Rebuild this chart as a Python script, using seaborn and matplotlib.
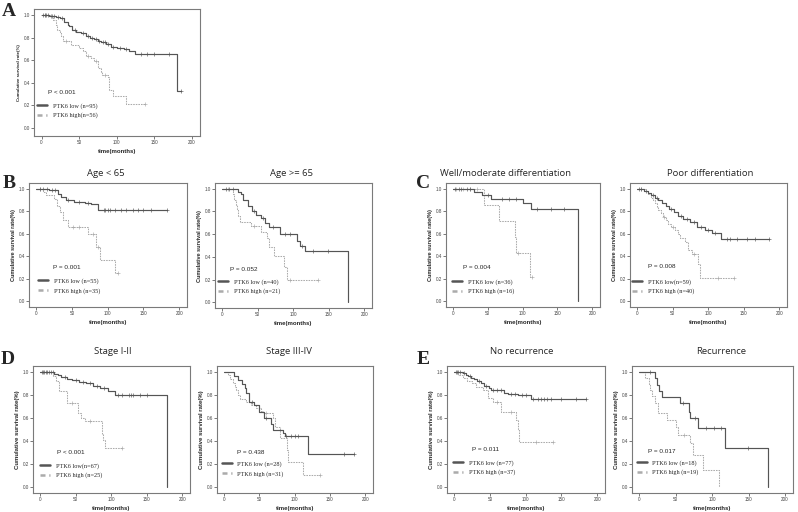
import matplotlib

matplotlib.use("Agg")
import matplotlib.pyplot as plt
from matplotlib.lines import Line2D
import numpy as np
import seaborn as sns

sns.set_style("ticks")
plt.rcParams["font.family"] = ["Liberation Sans", "DejaVu Sans"]

W, H = 798, 512
LOW_COLOR = "#555555"
HIGH_COLOR = "#ababab"

# ---- data: Kaplan-Meier steps (event time, survival after), censor times ----
# A: all patients
a_low_t = [10, 19, 24, 30, 35, 37, 41, 46, 52, 59, 64, 70, 75, 79, 86, 92, 101, 110, 117, 124, 180]
a_low_s = [0.99, 0.98, 0.97, 0.94, 0.91, 0.90, 0.87, 0.85, 0.84, 0.81, 0.80, 0.79, 0.77, 0.76, 0.74, 0.72, 0.71, 0.70, 0.68, 0.655, 0.33]
a_low_c = [2, 4, 6, 8, 12, 14, 16, 22, 27, 44, 55, 62, 67, 72, 77, 82, 84, 88, 95, 105, 113, 132, 141, 150, 170, 186]
a_high_t = [12, 15, 19, 21, 24, 26, 28, 39, 50, 55, 59, 66, 70, 75, 79, 81, 88, 90, 95, 112]
a_high_s = [0.985, 0.96, 0.91, 0.87, 0.84, 0.81, 0.77, 0.735, 0.71, 0.68, 0.64, 0.62, 0.59, 0.53, 0.50, 0.47, 0.45, 0.34, 0.28, 0.21]
a_high_c = [5, 33, 62, 73, 85, 138]

# B: Age < 65
b1_low_t = [18, 30, 35, 42, 53, 68, 77, 86]
b1_low_s = [0.985, 0.955, 0.925, 0.90, 0.885, 0.875, 0.865, 0.81]
b1_low_c = [5, 10, 15, 22, 26, 45, 60, 72, 95, 97, 100, 103, 110, 118, 125, 135, 142, 150, 160, 183]
b1_high_t = [9, 14, 25, 29, 33, 37, 45, 72, 84, 89, 110]
b1_high_s = [0.97, 0.94, 0.91, 0.85, 0.79, 0.72, 0.66, 0.60, 0.48, 0.365, 0.25]
b1_high_c = [5, 52, 60, 80, 86, 114]

# B: Age >= 65
b2_low_t = [22, 27, 30, 36, 42, 48, 55, 60, 66, 82, 106, 110, 117, 177]
b2_low_s = [0.975, 0.95, 0.90, 0.85, 0.80, 0.77, 0.74, 0.70, 0.66, 0.60, 0.54, 0.50, 0.45, 0.0]
b2_low_c = [5, 10, 15, 45, 58, 72, 88, 95, 112, 128, 149]
b2_high_t = [15, 17, 19, 21, 23, 25, 40, 55, 63, 66, 73, 87, 91]
b2_high_s = [0.95, 0.90, 0.86, 0.81, 0.76, 0.71, 0.67, 0.62, 0.57, 0.49, 0.41, 0.31, 0.20]
b2_high_c = [8, 45, 95, 135]

# C: well/moderate differentiation
c1_low_t = [30, 42, 55, 100, 112, 179]
c1_low_s = [0.97, 0.94, 0.91, 0.87, 0.82, 0.0]
c1_low_c = [3, 8, 12, 20, 25, 50, 70, 80, 90, 120, 140, 160]
c1_high_t = [45, 66, 89, 91, 110]
c1_high_s = [0.857, 0.714, 0.571, 0.43, 0.215]
c1_high_c = [5, 15, 25, 35, 93, 113]

# C: poor differentiation
c2_low_t = [10, 15, 20, 25, 30, 35, 40, 45, 52, 58, 65, 75, 85, 95, 105, 118]
c2_low_s = [0.98, 0.96, 0.94, 0.92, 0.90, 0.87, 0.85, 0.82, 0.79, 0.76, 0.73, 0.70, 0.66, 0.63, 0.61, 0.55]
c2_low_c = [3, 5, 12, 22, 28, 48, 62, 70, 80, 90, 100, 110, 126, 131, 140, 155, 166, 185]
c2_high_t = [12, 15, 20, 22, 25, 28, 30, 33, 36, 40, 44, 48, 53, 57, 61, 68, 72, 77, 86, 89]
c2_high_s = [0.975, 0.95, 0.92, 0.90, 0.87, 0.84, 0.81, 0.78, 0.75, 0.72, 0.69, 0.66, 0.63, 0.60, 0.56, 0.53, 0.46, 0.42, 0.33, 0.21]
c2_high_c = [5, 38, 50, 80, 114, 136]

# D: stage I-II
d1_low_t = [20, 25, 30, 38, 45, 55, 65, 75, 85, 95, 106, 178]
d1_low_s = [0.985, 0.97, 0.955, 0.94, 0.925, 0.91, 0.90, 0.88, 0.86, 0.83, 0.80, 0.0]
d1_low_c = [2, 4, 6, 8, 10, 12, 15, 18, 35, 50, 60, 70, 80, 90, 110, 115, 125, 128, 131, 140, 150]
d1_high_t = [18, 22, 26, 38, 54, 58, 63, 87, 89, 92]
d1_high_s = [0.96, 0.92, 0.83, 0.73, 0.64, 0.60, 0.57, 0.46, 0.41, 0.34]
d1_high_c = [45, 70, 115]

# D: stage III-IV
d2_low_t = [14, 20, 25, 29, 31, 36, 43, 50, 57, 67, 69.5, 84, 86, 119.5]
d2_low_s = [0.964, 0.93, 0.89, 0.86, 0.82, 0.74, 0.71, 0.65, 0.60, 0.55, 0.50, 0.47, 0.44, 0.29]
d2_low_c = [40, 60, 88, 95, 100, 105, 170, 184]
d2_high_t = [5, 8, 12, 15, 17, 19.5, 22, 31, 38.6, 45.7, 53, 55, 69.5, 72, 79, 88.6, 90, 112]
d2_high_s = [0.97, 0.94, 0.90, 0.87, 0.84, 0.80, 0.76, 0.74, 0.71, 0.69, 0.66, 0.64, 0.60, 0.52, 0.43, 0.32, 0.22, 0.11]
d2_high_c = [60, 136]

# E: no recurrence
e1_low_t = [12, 16, 20, 24, 28, 32, 38, 42, 49, 52, 70, 75, 89, 108]
e1_low_s = [0.987, 0.974, 0.96, 0.95, 0.935, 0.92, 0.90, 0.88, 0.86, 0.84, 0.82, 0.81, 0.80, 0.765]
e1_low_c = [2, 4, 6, 8, 14, 22, 35, 45, 55, 60, 65, 80, 85, 95, 100, 110, 117, 122, 125, 130, 135, 150, 170, 185]
e1_high_t = [6, 12, 18, 25, 31, 40, 47, 54, 66, 87, 89, 91]
e1_high_s = [0.97, 0.95, 0.92, 0.90, 0.87, 0.84, 0.77, 0.74, 0.65, 0.58, 0.50, 0.39]
e1_high_c = [60, 80, 115, 138]

# E: recurrence
e2_low_t = [22, 24, 27, 31, 56, 68.5, 69.5, 81, 117, 177]
e2_low_s = [0.944, 0.889, 0.833, 0.78, 0.73, 0.65, 0.60, 0.51, 0.34, 0.0]
e2_low_c = [15, 60, 76, 92, 103, 112, 149]
e2_high_t = [8, 12.7, 15, 18, 21, 26, 37.7, 51, 53.5, 69.4, 74, 87.5, 109]
e2_high_s = [0.947, 0.895, 0.84, 0.79, 0.73, 0.64, 0.58, 0.52, 0.45, 0.38, 0.28, 0.15, 0.0]
e2_high_c = [62]

x_ticks = [0, 50, 100, 150, 200]
y_ticks = [0.0, 0.2, 0.4, 0.6, 0.8, 1.0]


def draw_curve(ax, times, surv, censor, color, ls, lw):
    t_end = max(times[-1], max(censor))
    xs = [0] + list(times) + [t_end]
    ys = [1.0] + list(surv) + [surv[-1]]
    sns.lineplot(x=xs, y=ys, ax=ax, color=color, linestyle=ls, linewidth=lw,
                 drawstyle="steps-post", estimator=None, sort=False)
    levels = np.array([1.0] + list(surv))
    idx = np.searchsorted(np.array(times), np.array(censor), side="right")
    sns.scatterplot(x=censor, y=levels[idx], ax=ax, marker="+", color=color,
                    s=5, linewidth=0.45)


def make_panel(fig, cfg):
    l, t, w, h = cfg["box"]
    ax = fig.add_axes([l / W, 1 - (t + h) / H, w / W, h / H])
    low, high = cfg["data"]
    draw_curve(ax, *high, HIGH_COLOR, (0, (1.5, 1)), 0.75)
    draw_curve(ax, *low, LOW_COLOR, "-", 0.85)

    ax.set_xlim(-10, 211)
    ax.set_ylim(*cfg.get("ylim", (-0.05, 1.05)))
    ax.set_xticks(x_ticks)
    ax.set_yticks(y_ticks)
    ax.set_yticklabels([f"{v:.1f}" for v in y_ticks])
    ax.tick_params(length=2, width=0.5, labelsize=3.3, pad=1, colors="#444444")
    for sp in ax.spines.values():
        sp.set_visible(True)
        sp.set_color("#7a7a7a")
        sp.set_linewidth(0.8)
    ax.set_xlabel("time(months)", fontsize=4.3, fontweight="bold", labelpad=2.5)
    ax.set_ylabel("Cumulative survival rate(%)", fontsize=cfg.get("yl", 4),
                  fontweight="bold", labelpad=2)

    ax.text(*cfg["p_xy"], cfg["p"], transform=ax.transAxes, fontsize=4.6,
            ha="left", va="center")
    handles = [Line2D([], [], color=LOW_COLOR, lw=1.8),
               Line2D([], [], color=HIGH_COLOR, lw=1.8, ls=(0, (2, 1.5)))]
    ax.legend(handles, cfg["labels"], loc="center left",
              bbox_to_anchor=cfg["leg_xy"], frameon=False,
              prop={"family": "Liberation Serif", "size": 4.5},
              handlelength=1.6, handletextpad=0.9, labelspacing=0.6,
              borderaxespad=0, borderpad=0)

    if cfg.get("title"):
        tx, ty = cfg["title_xy"]
        fig.text(tx / W, 1 - ty / H, cfg["title"], ha="center", va="center",
                 fontsize=6.8, family="Open Sans")
    return ax


panels = [
    dict(box=(34, 9, 166, 127), ylim=(-0.07, 1.053), yl=3.2,
         data=((a_low_t, a_low_s, a_low_c), (a_high_t, a_high_s, a_high_c)),
         p="P < 0.001", p_xy=(0.085, 0.34), leg_xy=(0.02, 0.20),
         labels=["PTK6 low (n=95)", "PTK6 high(n=56)"]),
    dict(box=(29, 183, 158, 124), title="Age < 65", title_xy=(106, 174),
         data=((b1_low_t, b1_low_s, b1_low_c), (b1_high_t, b1_high_s, b1_high_c)),
         p="P = 0.001", p_xy=(0.15, 0.32), leg_xy=(0.057, 0.17),
         labels=["PTK6 low (n=55)", "PTK6 high (n=35)"]),
    dict(box=(215, 183, 157, 125), title="Age >= 65", title_xy=(292, 174),
         data=((b2_low_t, b2_low_s, b2_low_c), (b2_high_t, b2_high_s, b2_high_c)),
         p="P = 0.052", p_xy=(0.096, 0.31), leg_xy=(0.02, 0.17),
         labels=["PTK6 low (n=40)", "PTK6 high (n=21)"]),
    dict(box=(446, 183, 154, 124), title="Well/moderate differentiation",
         title_xy=(506, 174),
         data=((c1_low_t, c1_low_s, c1_low_c), (c1_high_t, c1_high_s, c1_high_c)),
         p="P = 0.004", p_xy=(0.11, 0.32), leg_xy=(0.04, 0.165),
         labels=["PTK6 low (n=36)", "PTK6 high (n=16)"]),
    dict(box=(630, 183, 157, 124), title="Poor differentiation", title_xy=(710, 174),
         data=((c2_low_t, c2_low_s, c2_low_c), (c2_high_t, c2_high_s, c2_high_c)),
         p="P = 0.008", p_xy=(0.115, 0.33), leg_xy=(0.013, 0.165),
         labels=["PTK6 low(n=59)", "PTK6 high (n=40)"]),
    dict(box=(33, 366, 157, 127), title="Stage I-II", title_xy=(113, 352), yl=4.3,
         data=((d1_low_t, d1_low_s, d1_low_c), (d1_high_t, d1_high_s, d1_high_c)),
         p="P < 0.001", p_xy=(0.153, 0.32), leg_xy=(0.045, 0.175),
         labels=["PTK6 low(n=67)", "PTK6 high (n=25)"]),
    dict(box=(217, 366, 156, 127), title="Stage III-IV", title_xy=(289, 352), yl=4.3,
         data=((d2_low_t, d2_low_s, d2_low_c), (d2_high_t, d2_high_s, d2_high_c)),
         p="P = 0.438", p_xy=(0.128, 0.32), leg_xy=(0.03, 0.19),
         labels=["PTK6 low (n=28)", "PTK6 high (n=31)"]),
    dict(box=(447, 366, 158, 127), title="No recurrence", title_xy=(522, 352), yl=4.3,
         data=((e1_low_t, e1_low_s, e1_low_c), (e1_high_t, e1_high_s, e1_high_c)),
         p="P = 0.011", p_xy=(0.16, 0.34), leg_xy=(0.04, 0.20),
         labels=["PTK6 low (n=77)", "PTK6 high (n=37)"]),
    dict(box=(632, 366, 161, 127), title="Recurrence", title_xy=(721, 352), yl=4.3,
         data=((e2_low_t, e2_low_s, e2_low_c), (e2_high_t, e2_high_s, e2_high_c)),
         p="P = 0.017", p_xy=(0.10, 0.33), leg_xy=(0.03, 0.20),
         labels=["PTK6 low (n=18)", "PTK6 high (n=19)"]),
]

letters = [("A", 9, 11), ("B", 9, 184), ("C", 423, 184), ("D", 8, 359), ("E", 423, 359)]

fig = plt.figure(figsize=(W / 100, H / 100), dpi=100)
for cfg in panels:
    make_panel(fig, cfg)

for letter, lx, ly in letters:
    fig.text(lx / W, 1 - ly / H, letter, ha="center", va="center", fontsize=14,
             fontweight="bold", family="Liberation Serif")

fig.savefig("out.png", dpi=100, facecolor="white")
